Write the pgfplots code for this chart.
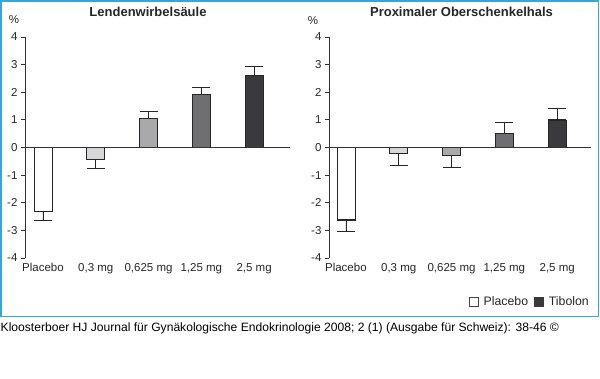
\documentclass[border=0pt]{standalone}
\usepackage{pgfplots}
\pgfplotsset{compat=1.18}
\usepackage{fontspec}
\setmainfont{Liberation Sans}
\definecolor{framecol}{HTML}{2FA8DE}
\definecolor{axcol}{HTML}{333333}
\definecolor{cA}{HTML}{FFFFFF}
\definecolor{cB}{HTML}{D7D7D9}
\definecolor{cC}{HTML}{A9A9AB}
\definecolor{cD}{HTML}{6F6F72}
\definecolor{cE}{HTML}{3A393D}
\pgfplotsset{
  mybars/.style={
    scale only axis, height=221pt,
    ymin=-4, ymax=4,
    ytick={-4,-3,-2,-1,0,1,2,3,4},
    axis y line*=left, axis x line*=bottom,
    x axis line style={draw=none},
    y axis line style={axcol, line width=0.8pt},
    xtick={0,1,2,3,4},
    xticklabels={Placebo,{0,3 mg},{0,625 mg},{1,25 mg},{2,5 mg}},
    xtick style={draw=none},
    ytick style={axcol, line width=0.8pt},
    tick align=outside, major tick length=4pt,
    ticklabel style={font=\fontsize{11.5}{13}\selectfont, text=black!85},
    /pgf/number format/assume math mode=true,
    xticklabel style={yshift=2pt},
    ybar, bar width=18pt, bar shift=0pt,
    every axis plot/.append style={draw=black!85, line width=0.7pt},
    error bars/y dir=both, error bars/y explicit,
    error bars/error bar style={black!85, line width=0.8pt},
    error bars/error mark options={rotate=90, mark size=9pt, line width=0.8pt, black!85},
  }
}
\begin{document}
\begin{tikzpicture}[x=1pt,y=1pt]
\path[use as bounding box] (0,0) rectangle (600,378);
\draw[framecol, line width=1.6pt] (0.8,61.5) rectangle (598.4,377.2);

% Left panel
\begin{axis}[mybars, at={(25pt,120pt)}, anchor=south west, width=265pt,
  xmin=-0.34, xmax=4.68]
\addplot[fill=cA] coordinates {(0,-2.30) += (0,0) -= (0,0.33)};
\addplot[fill=cB] coordinates {(1,-0.42) += (0,0) -= (0,0.33)};
\addplot[fill=cC] coordinates {(2,1.05) += (0,0.27) -= (0,0)};
\addplot[fill=cD] coordinates {(3,1.93) += (0,0.25) -= (0,0)};
\addplot[fill=cE] coordinates {(4,2.62) += (0,0.33) -= (0,0)};
\draw[axcol, line width=0.8pt] (axis cs:-0.34,0) -- (axis cs:4.68,0);
\end{axis}

% Right panel
\begin{axis}[mybars, at={(329pt,120pt)}, anchor=south west, width=262pt,
  xmin=-0.32, xmax=4.64,
  legend style={at={(axis description cs:0.996,-0.20)}, anchor=east,
    draw=none, fill=none, legend columns=2,
    font=\fontsize{12.3}{14}\selectfont, text=black!85,
    /tikz/every even column/.append style={column sep=5pt},
    inner sep=0pt, nodes={inner sep=1pt}},
  ]
\addlegendimage{legend image code/.code={\draw[fill=white,draw=black!75,line width=0.7pt] (0pt,-4.5pt) rectangle (9pt,4.5pt); \path (13pt,0pt);}}
\addlegendentry{Placebo}
\addlegendimage{legend image code/.code={\draw[fill=cE,draw=cE,line width=0.7pt] (0pt,-4.5pt) rectangle (9pt,4.5pt); \path (13pt,0pt);}}
\addlegendentry{Tibolon}
\addplot[fill=cA, forget plot] coordinates {(0,-2.62) += (0,0) -= (0,0.41)};
\addplot[fill=cB, forget plot] coordinates {(1,-0.22) += (0,0) -= (0,0.41)};
\addplot[fill=cC, forget plot] coordinates {(2,-0.30) += (0,0) -= (0,0.42)};
\addplot[fill=cD, forget plot] coordinates {(3,0.50) += (0,0.40) -= (0,0)};
\addplot[fill=cE, forget plot] coordinates {(4,1.00) += (0,0.40) -= (0,0)};
\draw[axcol, line width=0.8pt] (axis cs:-0.32,0) -- (axis cs:4.64,0);
\end{axis}

\node[font=\bfseries\fontsize{13}{15}\selectfont, text=black!85] at (148,366) {Lendenwirbelsäule};
\node[font=\bfseries\fontsize{13}{15}\selectfont, text=black!85] at (461.5,366) {Proximaler Oberschenkelhals};
\node[font=\fontsize{11.5}{13}\selectfont, text=black!85] at (14,358) {\%};
\node[font=\fontsize{11.5}{13}\selectfont, text=black!85] at (313,357) {\%};
\node[anchor=west, inner sep=0pt, font=\fontsize{12.1}{14}\selectfont] at (0.5,50) {Kloosterboer HJ Journal für Gynäkologische Endokrinologie 2008; 2 (1) (Ausgabe für Schweiz): 38-46 ©};
\end{tikzpicture}
\end{document}
